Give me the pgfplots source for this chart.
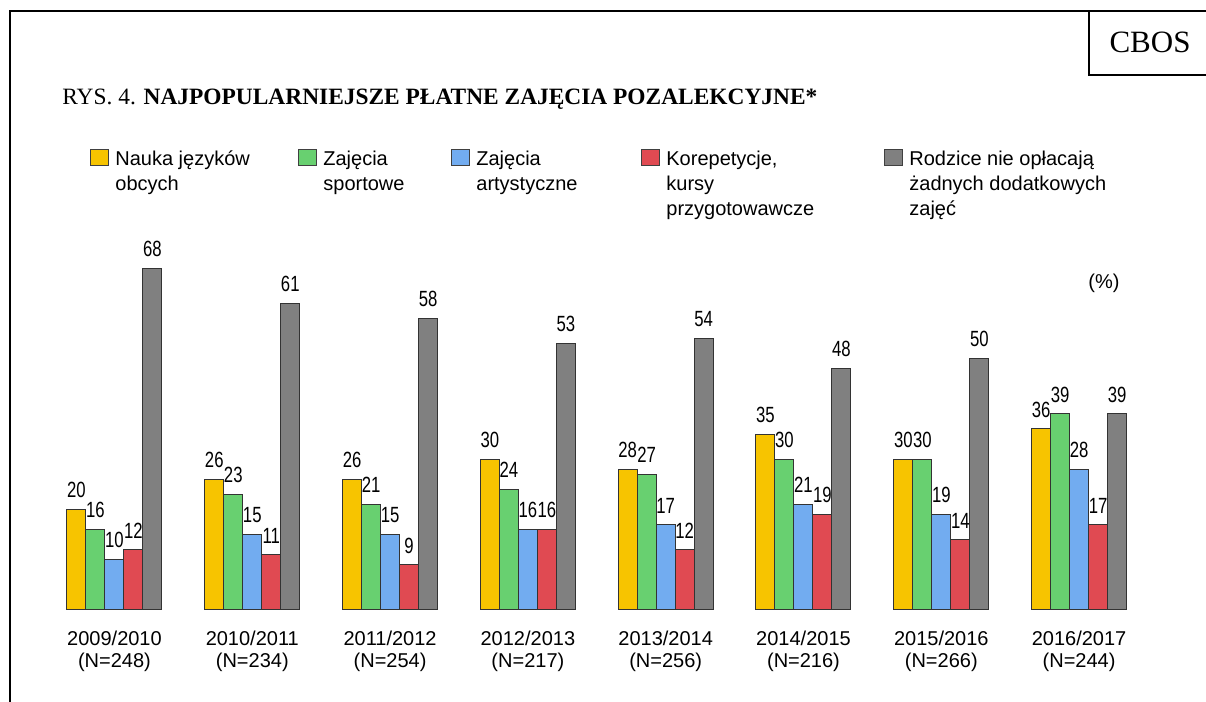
\documentclass[border=0pt]{standalone}
\usepackage{pgfplots}
\pgfplotsset{compat=1.18}
\usepackage{fontspec}
\setmainfont{Liberation Sans}
\newfontfamily\serif{Liberation Serif}
\newfontfamily\narrow[FakeStretch=0.76]{Liberation Sans}
\definecolor{cY}{RGB}{247,196,0}
\definecolor{cG}{RGB}{104,208,112}
\definecolor{cB}{RGB}{114,172,240}
\definecolor{cR}{RGB}{224,74,82}
\definecolor{cK}{RGB}{128,128,128}
\begin{document}
\begin{tikzpicture}
\path[use as bounding box] (0pt,0pt) rectangle (603pt,351pt);
\draw[line width=1pt] (5pt,0pt) -- (5pt,345.5pt) -- (603pt,345.5pt);
\draw[line width=1pt] (544.5pt,345.5pt) -- (544.5pt,313.5pt) -- (603pt,313.5pt);
\node[font=\serif\fontsize{15.5}{18}\selectfont] at (575pt,330pt) {CBOS};
\node[anchor=base west, inner sep=0pt, font=\serif\fontsize{11.7}{13}\selectfont] at (31pt,298.5pt) {RYS. 4. \textbf{NAJPOPULARNIEJSZE PŁATNE ZAJĘCIA POZALEKCYJNE*}};
\node[font=\fontsize{10}{12}\selectfont] at (552pt,209.5pt) {(\%)};
\begin{axis}[
  at={(15.9pt,46pt)}, anchor=south west,
  scale only axis, width=565pt, height=176pt,
  xmin=-0.6, xmax=7.6, ymin=0, ymax=70,
  ybar=0pt, bar width=9.5pt,
  axis line style={draw=none},
  ytick=\empty,
  xtick={0,1,2,3,4,5,6,7},
  xticklabels={{2009/2010\\(N=248)},{2010/2011\\(N=234)},{2011/2012\\(N=254)},{2012/2013\\(N=217)},{2013/2014\\(N=256)},{2014/2015\\(N=216)},{2015/2016\\(N=266)},{2016/2017\\(N=244)}},
  xtick style={draw=none}, major tick length=0pt,
  xticklabel style={align=center, font=\fontsize{10}{11}\selectfont, yshift=-7pt},
  nodes near coords,
  /pgf/number format/assume math mode=true,
  every node near coord/.append style={font=\narrow\fontsize{11}{12}\selectfont, inner sep=0pt, yshift=5.5pt, text=black},
  legend columns=5,
  legend image code/.code={\draw[#1,draw=black!75,line width=0.5pt] (0pt,0pt) rectangle (9pt,8pt);},
  legend style={draw=none, fill=none, at={(0.0515,1.325)}, anchor=north west, inner sep=0pt,
    cells={anchor=base west}, font=\fontsize{10}{12.5}\selectfont,
    /tikz/every odd column/.append style={column sep=1pt}},
]
\addplot[fill=cY, draw=black!80, line width=0.5pt] coordinates {(0,20) (1,26) (2,26) (3,30) (4,28) (5,35) (6,30) (7,36)};
\addlegendentry{\makebox[89.5pt][l]{\begin{tabular}[t]{@{}l@{}}Nauka języków\\obcych\end{tabular}}}
\addplot[fill=cG, draw=black!80, line width=0.5pt] coordinates {(0,16) (1,23) (2,21) (3,24) (4,27) (5,30) (6,30) (7,39)};
\addlegendentry{\makebox[62pt][l]{\begin{tabular}[t]{@{}l@{}}Zajęcia\\sportowe\end{tabular}}}
\addplot[fill=cB, draw=black!80, line width=0.5pt] coordinates {(0,10) (1,15) (2,15) (3,16) (4,17) (5,21) (6,19) (7,28)};
\addlegendentry{\makebox[80.5pt][l]{\begin{tabular}[t]{@{}l@{}}Zajęcia\\artystyczne\end{tabular}}}
\addplot[fill=cR, draw=black!80, line width=0.5pt] coordinates {(0,12) (1,11) (2,9) (3,16) (4,12) (5,19) (6,14) (7,17)};
\addlegendentry{\makebox[107pt][l]{\begin{tabular}[t]{@{}l@{}}Korepetycje,\\kursy\\przygotowawcze\end{tabular}}}
\addplot[fill=cK, draw=black!80, line width=0.5pt] coordinates {(0,68) (1,61) (2,58) (3,53) (4,54) (5,48) (6,50) (7,39)};
\addlegendentry{\begin{tabular}[t]{@{}l@{}}Rodzice nie opłacają\\żadnych dodatkowych\\zajęć\end{tabular}}
\end{axis}
\end{tikzpicture}
\end{document}
